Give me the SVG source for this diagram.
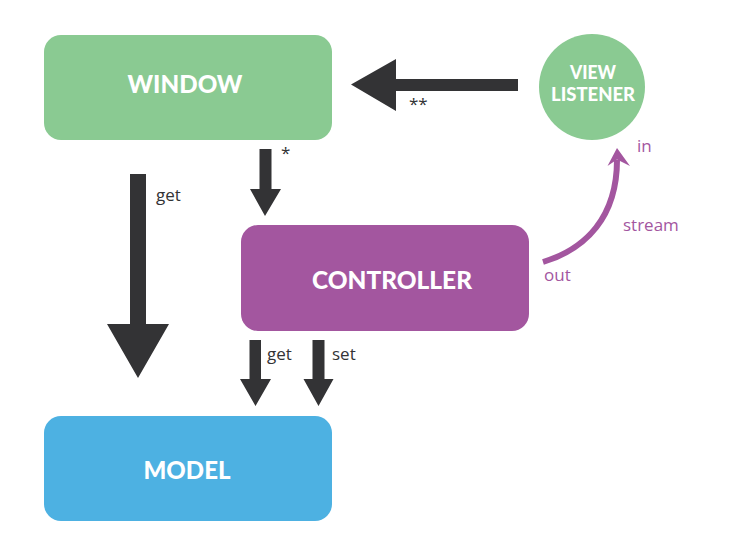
<svg xmlns="http://www.w3.org/2000/svg" width="735" height="552" viewBox="0 0 735 552">
<style>
.lbl{font-family:"Lato","Open Sans","Liberation Sans",sans-serif;font-weight:900;fill:#fff;text-anchor:middle}
.small{font-family:"Open Sans","Liberation Sans",sans-serif;font-size:17px}
.dark{fill:#333335}
.pt{fill:#a3569f}
</style>
<rect width="735" height="552" fill="#fff"/>
<g id="window"><rect x="44" y="35" width="288" height="105" rx="17" fill="#8aca92"/><text class="lbl" x="185" y="93" font-size="25" textLength="115" lengthAdjust="spacingAndGlyphs">WINDOW</text></g>
<g id="view-listener"><circle cx="592" cy="87" r="53" fill="#8aca92"/><text class="lbl" x="593" y="79" font-size="18" textLength="46" lengthAdjust="spacingAndGlyphs">VIEW</text><text class="lbl" x="593" y="101" font-size="18" textLength="84" lengthAdjust="spacingAndGlyphs">LISTENER</text></g>
<g id="controller"><rect x="241" y="225" width="288" height="106" rx="17" fill="#a3569f"/><text class="lbl" x="392" y="289" font-size="25" textLength="160" lengthAdjust="spacingAndGlyphs">CONTROLLER</text></g>
<g id="model"><rect x="44" y="416" width="288" height="105" rx="17" fill="#4db1e2"/><text class="lbl" x="187" y="479" font-size="25" textLength="87" lengthAdjust="spacingAndGlyphs">MODEL</text></g>
<g id="connectors">
<polygon class="dark" points="518,79 396,79 396,59 351,84.5 396,111 396,91 518,91"/>
<text class="small dark" x="409" y="110">**</text>
<polygon class="dark" points="130,174 146,174 146,324 169,324 138,378 107,324 130,324"/>
<text class="small dark" x="156" y="201">get</text>
<polygon class="dark" points="259.5,149 271.5,149 271.5,189 281,189 265,216 250,189 259.5,189"/>
<text class="small dark" x="281" y="159">*</text>
<polygon class="dark" points="249.5,340 261,340 261,379 271,379 255.5,406 240,379 249.5,379"/>
<text class="small dark" x="267" y="360">get</text>
<polygon class="dark" points="312.5,340 324.5,340 324.5,379 333.5,379 318.5,406 303.5,379 312.5,379"/>
<text class="small dark" x="332" y="360">set</text>
<path d="M543,262 C586,249 617,217 617,160" fill="none" stroke="#a3569f" stroke-width="6"/>
<polygon class="pt" points="617,148 630,166 617,159.5 607.5,166"/>
<text class="small pt" x="637" y="152">in</text>
<text class="small pt" x="623" y="231">stream</text>
<text class="small pt" x="544" y="281">out</text>
</g>
</svg>
